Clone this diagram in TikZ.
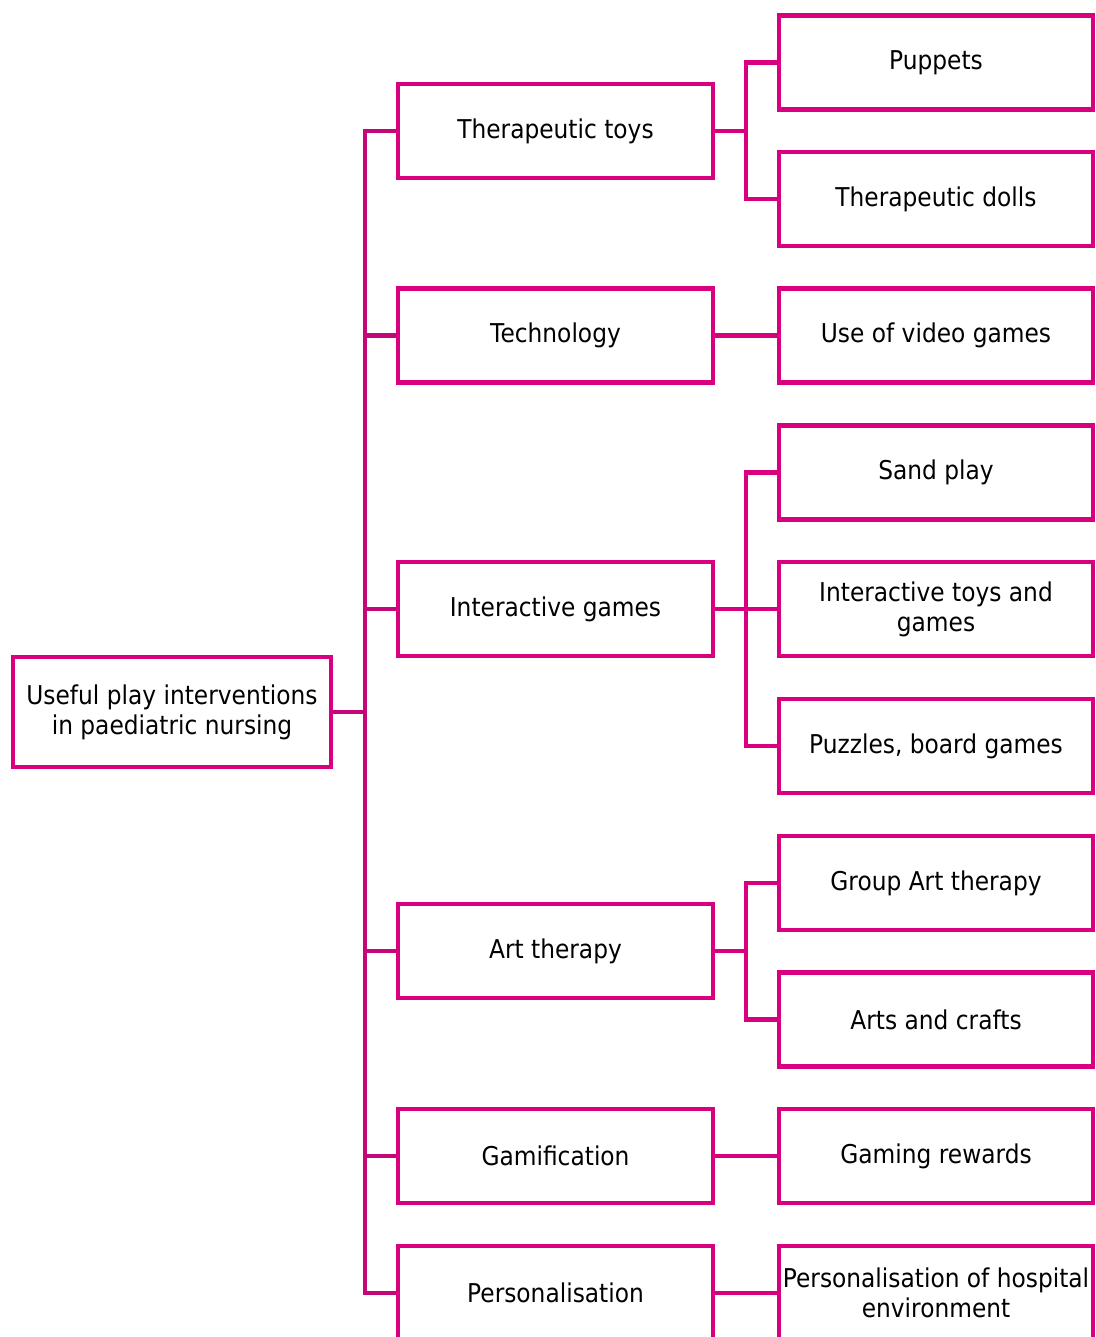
\documentclass[tikz,border=0pt]{standalone}
\usepackage{fontspec}
\setmainfont{DejaVu Sans}[FakeStretch=0.9]
\definecolor{boxcol}{RGB}{217,0,128}
\definecolor{trunkcol}{RGB}{196,6,122}
\tikzset{
  box/.style={draw=boxcol, line width=4.6bp, fill=white, align=center, inner sep=2bp,
    font=\fontsize{26}{30}\selectfont, text=black},
  lone/.style={box, minimum width=315bp, minimum height=94bp},
  ltwo/.style={box, minimum width=314bp, minimum height=94bp},
  trunk/.style={draw=trunkcol, line width=4.6bp},
  branch/.style={draw=boxcol, line width=4.6bp},
}
\begin{document}
\begin{tikzpicture}[x=1bp, y=-1bp]
\useasboundingbox (0,0) rectangle (1095,1337);
\clip (0,0) rectangle (1095,1337);
\node[box, minimum width=318bp, minimum height=110bp] (root) at (172,712) {Useful play interventions\\in paediatric nursing};
% level 1
\node[lone] (a) at (555.5,131) {Therapeutic toys};
\node[lone] (b) at (555.5,335.5) {Technology};
\node[lone] (c) at (555.5,609) {Interactive games};
\node[lone] (d) at (555.5,951) {Art therapy};
\node[lone] (e) at (555.5,1156) {Gamification};
\node[lone] (f) at (555.5,1293) {Personalisation};
% level 2
\node[ltwo] (a1) at (936,62.5) {Puppets};
\node[ltwo] (a2) at (936,199) {Therapeutic dolls};
\node[ltwo] (b1) at (936,335.5) {Use of video games};
\node[ltwo] (c1) at (936,472.5) {Sand play};
\node[ltwo] (c2) at (936,609) {Interactive toys and\\games};
\node[ltwo] (c3) at (936,746) {Puzzles, board games};
\node[ltwo] (d1) at (936,883) {Group Art therapy};
\node[ltwo] (d2) at (936,1019.5) {Arts and crafts};
\node[ltwo] (e1) at (936,1156) {Gaming rewards};
\node[ltwo] (f1) at (936,1293) {Personalisation of hospital\\environment};
% trunk
\coordinate (tx) at (365,0);
\draw[trunk] (root.east) -- (root.east -| tx);
\draw[trunk, line cap=rect] (a.west -| tx) -- (f.west -| tx);
\foreach \n in {a,b,c,d,e,f}{
  \draw[trunk] (\n.west -| tx) -- (\n.west);
}
% level-1 to level-2
\coordinate (bx) at (746,0);
\draw[branch] (a.east) -- (a.east -| bx);
\draw[branch, line join=miter] (a1.west) -- (a1.west -| bx) -- (a2.west -| bx) -- (a2.west);
\draw[branch] (b.east) -- (b1.west);
\draw[branch] (c.east) -- (c2.west);
\draw[branch, line join=miter] (c1.west) -- (c1.west -| bx) -- (c3.west -| bx) -- (c3.west);
\draw[branch] (d.east) -- (d.east -| bx);
\draw[branch, line join=miter] (d1.west) -- (d1.west -| bx) -- (d2.west -| bx) -- (d2.west);
\draw[branch] (e.east) -- (e1.west);
\draw[branch] (f.east) -- (f1.west);
\end{tikzpicture}
\end{document}
